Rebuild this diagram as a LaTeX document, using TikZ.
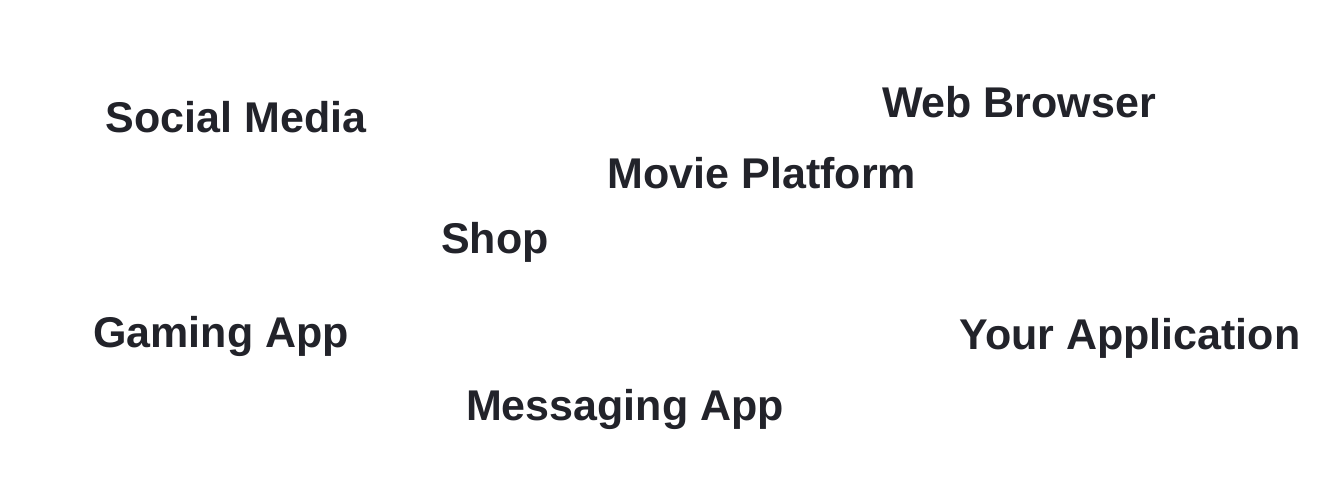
\documentclass[tikz,border=0pt]{standalone}
\usepackage{fontspec}
\setmainfont{Liberation Sans}
\definecolor{txt}{HTML}{22232A}
\begin{document}
\begin{tikzpicture}[x=0.5pt,y=-0.5pt,
  lbl/.style={inner sep=0pt,anchor=base,text=txt,font=\fontsize{21.5pt}{24pt}\selectfont\bfseries}]
\useasboundingbox[fill=white] (0,0) rectangle (1320,479);
\node[lbl] (social) at (236,132) {Social Media};
\node[lbl] (web) at (1019,117) {Web Browser};
\node[lbl] (movie) at (762,188) {Movie Platform};
\node[lbl] (shop) at (495,253) {Shop};
\node[lbl] (gaming) at (221,347) {Gaming App};
\node[lbl] (yourapp) at (1130,349) {Your Application};
\node[lbl] (msg) at (625,420) {Messaging App};
\end{tikzpicture}
\end{document}
